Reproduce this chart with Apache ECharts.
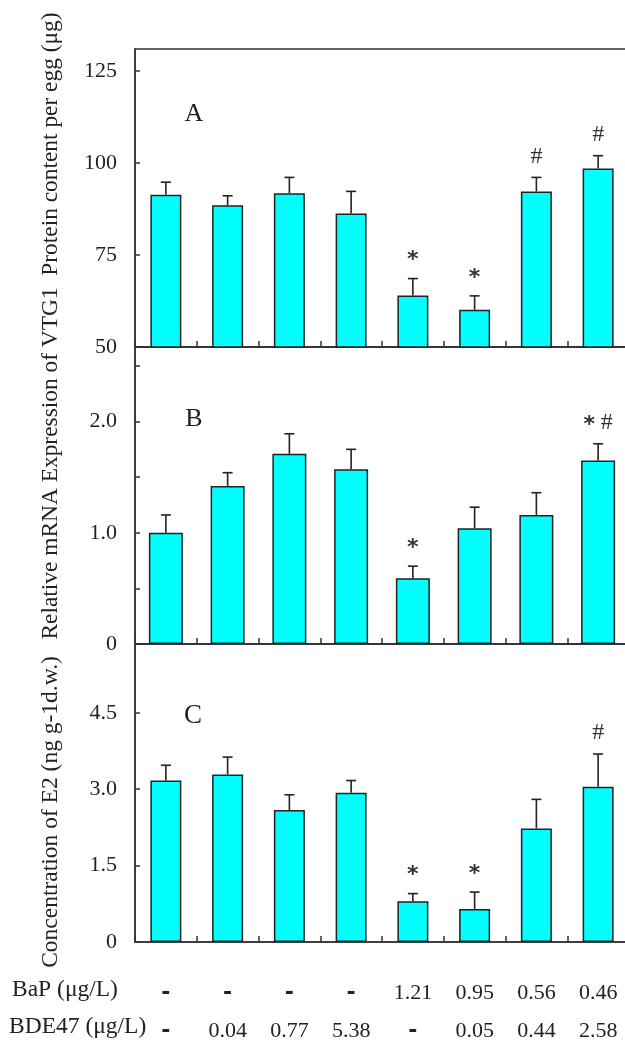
<!DOCTYPE html>
<html>
<head>
<meta charset="utf-8">
<script src="https://cdn.jsdelivr.net/npm/echarts@6/dist/echarts.min.js"></script>
<style>
html,body{margin:0;padding:0;background:#fff;}
#chart{width:625px;height:1044px;}
</style>
</head>
<body>
<div id="chart"></div>
<script>
// ---- data ----
const categories = ['g1','g2','g3','g4','g5','g6','g7','g8'];
const bapLabels  = ['-','-','-','-','1.21','0.95','0.56','0.46'];
const bdeLabels  = ['-','0.04','0.77','5.38','-','0.05','0.44','2.58'];

const meanA = [91.4, 88.5, 91.8, 86.3, 64.0, 60.1, 92.3, 98.5];
const sdA   = [3.4, 2.6, 4.3, 6.0, 4.6, 3.8, 3.8, 3.5];
const marksA = ['', '', '', '', '*', '*', '#', '#'];

const meanB = [1.00, 1.42, 1.71, 1.57, 0.59, 1.04, 1.16, 1.65];
const sdB   = [0.16, 0.12, 0.18, 0.18, 0.11, 0.19, 0.20, 0.15];
const marksB = ['', '', '', '', '*', '', '', '* #'];

const meanC = [3.17, 3.29, 2.59, 2.93, 0.80, 0.65, 2.23, 3.05];
const sdC   = [0.30, 0.34, 0.30, 0.24, 0.15, 0.33, 0.57, 0.64];
const marksC = ['', '', '', '', '*', '*', '', '#'];

const ticksA = [50, 75, 100, 125];
const ticksB = [0, 1, 2];
const ticksC = [0, 1.5, 3, 4.5];

const titleAB = 'Relative mRNA Expression of VTG1  Protein content per egg (μg)';
const titleC = 'Concentration of E2 (ng g-1d.w.)';

// ---- chart ----
const FONT = '"Liberation Serif", "DejaVu Serif", serif';
const TXT = '#222';
const chart = echarts.init(document.getElementById('chart'));

function fmt(ticks, dec) {
  return function (v) {
    for (const t of ticks) {
      if (Math.abs(t - v) < 1e-6) return (t === 0 || dec === 0) ? String(t) : t.toFixed(dec);
    }
    return '';
  };
}

function markRich(mk) {
  return mk.split('').map(c => c === '*' ? '{s|*}' : (c === '#' ? '{h|#}' : c)).join('');
}

function errRender(marks) {
  return function (params, api) {
    const i = api.value(0), m = api.value(1), sd = api.value(2);
    const p0 = api.coord([i, m]);
    const p1 = api.coord([i, m + sd]);
    const cw = 5;
    const ch = [
      {type:'line', shape:{x1:p0[0], y1:p0[1], x2:p1[0], y2:p1[1]}, style:{stroke:'#222', lineWidth:1.6}},
      {type:'line', shape:{x1:p1[0]-cw, y1:p1[1], x2:p1[0]+cw, y2:p1[1]}, style:{stroke:'#222', lineWidth:1.6}}
    ];
    const mk = marks[params.dataIndex];
    if (mk) {
      ch.push({type:'text', x:p1[0], y:p1[1]-21,
        style:{text:markRich(mk), fill:'#333', font:'22px ' + FONT, align:'center', verticalAlign:'middle',
          rich:{
            s:{fontFamily:'"DejaVu Sans", sans-serif', fontSize:22, fontWeight:'bold', color:'#333', padding:[6,0,0,0]},
            h:{fontFamily:FONT, fontSize:24, color:'#333'}
          }}});
    }
    return {type:'group', children: ch};
  };
}

const grids = [
  {left:135, top:49, width:494, height:298},
  {left:135, top:347, width:494, height:297},
  {left:135, top:644, width:494, height:298}
].map(g => Object.assign(g, {show:true, borderColor:'#333', borderWidth:1.5, backgroundColor:'transparent',
  containLabel:false, outerBoundsMode:'none'}));

function xAx(idx, showLabels) {
  return {
    type:'category', gridIndex:idx, data:categories,
    axisLine:{show:true, lineStyle:{color:'#333', width:1.5}},
    axisTick:{show:true, inside:true, length:6, lineStyle:{color:'#333', width:1.5}},
    axisLabel: showLabels ? {
      show:true, margin:32, interval:0,
      formatter:function (v, i) {
        const a = bapLabels[i] === '-' ? '{d|-}' : bapLabels[i];
        const b = bdeLabels[i] === '-' ? '{d|-}' : bdeLabels[i];
        return a + '\n' + b;
      },
      fontFamily:FONT, fontSize:22, color:TXT, lineHeight:38,
      rich:{d:{fontFamily:'"DejaVu Sans", sans-serif', fontWeight:'bold', fontSize:22, color:TXT, lineHeight:38}}
    } : {show:false}
  };
}
function yAx(idx, min, max, interval, ticks, dec) {
  return {
    type:'value', gridIndex:idx, min:min, max:max, interval:interval,
    splitLine:{show:false},
    axisLine:{show:true, lineStyle:{color:'#333', width:1.5}},
    axisTick:{show:true, inside:true, length:5, lineStyle:{color:'#333', width:1.5}},
    axisLabel:{show:true, margin:18, formatter:fmt(ticks, dec), fontFamily:FONT, fontSize:22, color:TXT,
      showMaxLabel:false}
  };
}

function barSeries(idx, data, w) {
  return {type:'bar', xAxisIndex:idx, yAxisIndex:idx, data:data, barWidth:w,
    itemStyle:{color:'#00FFFF', borderColor:'#222', borderWidth:1.5}, z:2, silent:true};
}
function errSeries(idx, mean, sd, marks) {
  return {type:'custom', xAxisIndex:idx, yAxisIndex:idx, z:3, silent:true,
    renderItem:errRender(marks),
    data: mean.map((m, i) => [i, m, sd[i]]),
    encode:{x:0, y:[1,2]}};
}

const option = {
  animation:false,
  backgroundColor:'#fff',
  grid: grids,
  xAxis:[xAx(0,false), xAx(1,false), xAx(2,true)],
  yAxis:[
    yAx(0, 50, 131, 25, ticksA, 0),
    yAx(1, 0, 2.67, 0.5, ticksB, 1),
    yAx(2, 0, 5.85, 1.5, ticksC, 1)
  ],
  series:[
    barSeries(0, meanA, 31), errSeries(0, meanA, sdA, marksA),
    barSeries(1, meanB, 34), errSeries(1, meanB, sdB, marksB),
    barSeries(2, meanC, 31), errSeries(2, meanC, sdC, marksC)
  ],
  graphic:[
    {type:'text', x:51, y:326, rotation:Math.PI/2,
      style:{text:titleAB, font:'23.4px ' + FONT, fill:TXT, align:'center', verticalAlign:'middle'}},
    {type:'text', x:51, y:812, rotation:Math.PI/2,
      style:{text:titleC, font:'23.5px ' + FONT, fill:TXT, align:'center', verticalAlign:'middle'}},
    {type:'text', x:194, y:114, style:{text:'A', font:'26px ' + FONT, fill:TXT, align:'center', verticalAlign:'middle'}},
    {type:'text', x:194, y:419, style:{text:'B', font:'26px ' + FONT, fill:TXT, align:'center', verticalAlign:'middle'}},
    {type:'text', x:193, y:716, style:{text:'C', font:'27px ' + FONT, fill:TXT, align:'center', verticalAlign:'middle'}},
    {type:'text', x:12, y:990, style:{text:'BaP (μg/L)', font:'23.5px ' + FONT, fill:TXT, align:'left', verticalAlign:'middle'}},
    {type:'text', x:9, y:1027, style:{text:'BDE47 (μg/L)', font:'23.5px ' + FONT, fill:TXT, align:'left', verticalAlign:'middle'}}
  ]
};
chart.setOption(option);
</script>
</body>
</html>
